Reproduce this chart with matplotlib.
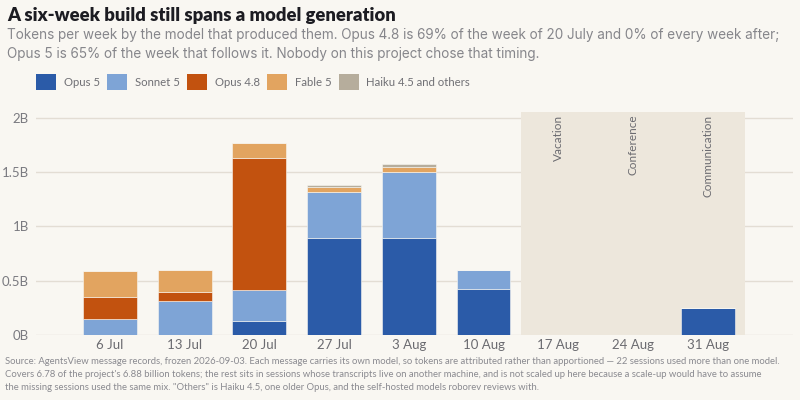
import numpy as np
import matplotlib.pyplot as plt
from matplotlib.patches import Patch

# weekly tokens (billions) by model
weeks = ["6 Jul", "13 Jul", "20 Jul", "27 Jul", "3 Aug", "10 Aug", "17 Aug", "24 Aug", "31 Aug"]
opus5 = [0.0, 0.0, 0.126, 0.893, 0.893, 0.424, 0.0, 0.0, 0.246]
sonnet5 = [0.145, 0.316, 0.288, 0.427, 0.607, 0.172, 0.0, 0.0, 0.0]
opus48 = [0.202, 0.080, 1.216, 0.0, 0.0, 0.0, 0.0, 0.0, 0.0]
fable5 = [0.245, 0.200, 0.138, 0.046, 0.043, 0.0, 0.0, 0.0, 0.0]
haiku_others = [0.0, 0.0, 0.0, 0.015, 0.035, 0.0, 0.0, 0.0, 0.0]

series_names = ["Opus 5", "Sonnet 5", "Opus 4.8", "Fable 5", "Haiku 4.5 and others"]
series_colors = ["#2b5ba8", "#7ea4d6", "#c2520f", "#e2a460", "#b6ad9c"]

away_weeks = ["17 Aug", "24 Aug", "31 Aug"]
away_labels = ["Vacation", "Conference", "Communication"]

title = "A six-week build still spans a model generation"
subtitle = ("Tokens per week by the model that produced them. Opus 4.8 is 69% of the week of 20 July and 0% of every week after;\n"
            "Opus 5 is 65% of the week that follows it. Nobody on this project chose that timing.")
footer = ("Source: AgentsView message records, frozen 2026-09-03. Each message carries its own model, so tokens are attributed rather than apportioned \u2014 22 sessions used more than one model.\n"
          "Covers 6.78 of the project's 6.88 billion tokens; the rest sits in sessions whose transcripts live on another machine, and is not scaled up here because a scale-up would have to assume\n"
          "the missing sessions used the same mix. \"Others\" is Haiku 4.5, one older Opus, and the self-hosted models roborev reviews with.")

bg = "#f9f7f2"
plt.rcParams["font.family"] = ["Lato", "DejaVu Sans"]
wide = ["Inter", "DejaVu Sans"]

fig = plt.figure(figsize=(8, 4), dpi=100, facecolor=bg)
ax = fig.add_axes([0.045, 0.1625, 0.946, 0.5565], facecolor=bg)
renderer = fig.canvas.get_renderer()


def fit_width(t, width_px):
    # shrink/grow a text so its widest line spans width_px
    w = t.get_window_extent(renderer).width
    t.set_fontsize(t.get_fontsize() * width_px / w)
    return t.get_fontsize()


x = np.arange(len(weeks))

# shaded weeks away
i0 = weeks.index(away_weeks[0])
i1 = weeks.index(away_weeks[-1])
ax.axvspan(i0 - 0.5, i1 + 0.5, color="#ede7dc", zorder=1, lw=0)
for w, lab in zip(away_weeks, away_labels):
    ax.text(weeks.index(w), 2.03, lab, rotation=90, ha="center", va="top",
            fontsize=8.5, color="#6b6b70", zorder=4)

for yv in [0, 0.5, 1, 1.5, 2]:
    ax.axhline(yv, color="#e3ddd4", lw=1, zorder=0)

bottom = np.zeros(len(weeks))
for vals, name, col in zip([opus5, sonnet5, opus48, fable5, haiku_others], series_names, series_colors):
    v = np.array(vals)
    ax.bar(x, v, bottom=bottom, width=0.72, color=col, edgecolor=bg, linewidth=0.4, zorder=3)
    bottom += v

ax.set_xlim(-0.99, 9.14)
ax.set_ylim(0, 2.05)
ax.set_xticks(x)
ax.set_xticklabels(weeks, fontsize=9.5, color="#6b6b70")
ax.set_yticks([0, 0.5, 1, 1.5, 2])
ax.set_yticklabels(["0B", "0.5B", "1B", "1.5B", "2B"], fontsize=9.5, color="#7a7a80")
ax.tick_params(length=0, pad=3)
ax.tick_params(axis="y", pad=5)
for s in ax.spines.values():
    s.set_visible(False)

t_title = fig.text(0.009, 0.962, title, fontsize=14, fontweight="heavy", color="#1c1c22", va="center")
fit_width(t_title, 386)

t_sub = fig.text(0.009, 0.93, subtitle, fontsize=10, color="#86868b", va="top", linespacing=1.45,
                 family=wide)
fit_width(t_sub, 778)

# legend font sized so the last label is as wide as in the reference
probe = fig.text(0, 0, series_names[-1], fontsize=10)
leg_fs = fit_width(probe, 104)
probe.remove()
px_pt = 0.72  # points per pixel at 100 dpi
handles = [Patch(facecolor=c, edgecolor="none") for c in series_colors]
fig.legend(handles, series_names, loc="center left", bbox_to_anchor=(0.045, 0.795),
           ncol=5, frameon=False, fontsize=leg_fs,
           handlelength=20 * px_pt / leg_fs, handleheight=19 * px_pt / leg_fs,
           columnspacing=7 * px_pt / leg_fs, handletextpad=8 * px_pt / leg_fs,
           borderaxespad=0, borderpad=0, labelcolor="#707075")

t_foot = fig.text(0.006, 0.108, footer, fontsize=7, color="#8a8a90", va="top", linespacing=1.6)
fit_width(t_foot, 780)

fig.savefig("out.png", dpi=100, facecolor=bg)
